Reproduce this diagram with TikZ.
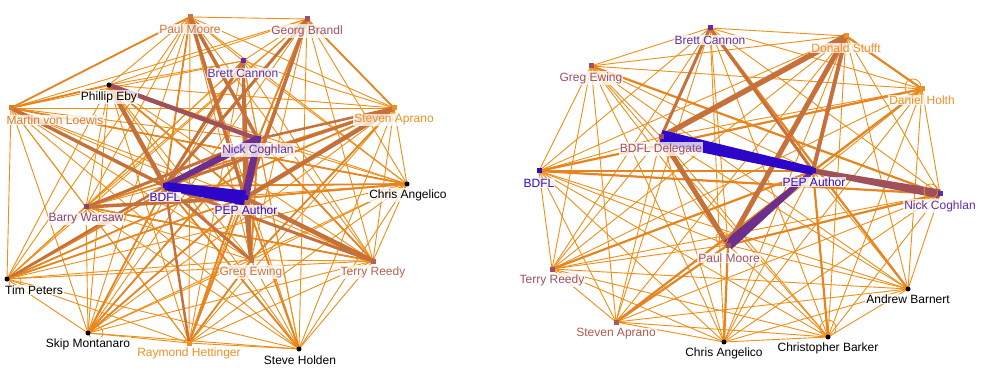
\documentclass[tikz,border=0pt]{standalone}
\usepackage{fontspec}
\setmainfont{Liberation Sans}
\usetikzlibrary{calc}
\definecolor{eor}{RGB}{240,142,22}
\definecolor{emed}{RGB}{230,132,32}
\definecolor{ebr}{RGB}{198,112,58}
\definecolor{emv}{RGB}{160,80,90}
\definecolor{epu}{RGB}{108,48,140}
\definecolor{ebl}{RGB}{45,5,200}
\definecolor{cbr}{RGB}{200,120,70}
\definecolor{cmv}{RGB}{160,80,100}
\definecolor{cpu}{RGB}{100,45,165}
\definecolor{cbl}{RGB}{50,10,200}
\definecolor{cor}{RGB}{238,145,35}
\definecolor{cmo}{RGB}{215,125,45}
\definecolor{ctr}{RGB}{180,100,80}
\definecolor{cbw}{RGB}{135,65,115}
\definecolor{csa}{RGB}{175,90,80}
\newcommand\taper[5]{\fill[#5] ($(#1)!#3!90:(#2)$) -- ($(#2)!#4!-90:(#1)$) -- ($(#2)!#4!90:(#1)$) -- ($(#1)!#3!-90:(#2)$) -- cycle;}
\begin{document}
\begin{tikzpicture}[x=1pt,y=-1pt,
  thinedge/.style={draw=eor,line width=0.9pt},
  mededge/.style={draw=emed,line width=#1},
  bredge/.style={draw=ebr,line width=#1},
  loopedge/.style={draw=eor,line width=0.8pt},
  lab/.style={font=\fontsize{12}{12}\selectfont,fill=white,fill opacity=0.75,text opacity=1,inner sep=1pt},
  sq/.style={fill=#1,minimum size=5pt,inner sep=0pt,outer sep=0pt,rectangle},
  dot/.style={fill=black,circle,minimum size=5pt,inner sep=0pt,outer sep=0pt}]
\useasboundingbox (0,0) rectangle (981,387);
\fill[white] (0,0) rectangle (981,387);
% ---------- left graph coordinates
\coordinate (a1) at (190,17);
\coordinate (a2) at (307,19);
\coordinate (a3) at (243,61);
\coordinate (a4) at (109,85);
\coordinate (a5) at (11,108);
\coordinate (a6) at (394,108);
\coordinate (a7) at (258,139);
\coordinate (a8) at (407,184);
\coordinate (a9) at (165,186);
\coordinate (a10) at (245,198);
\coordinate (a11) at (86,207);
\coordinate (a12) at (251,260);
\coordinate (a13) at (373,261);
\coordinate (a14) at (7,279);
\coordinate (a15) at (88,333);
\coordinate (a16) at (189,343);
\coordinate (a17) at (299,349);
% ---------- right graph coordinates
\coordinate (b1) at (710,28);
\coordinate (b2) at (846,36);
\coordinate (b3) at (591,66);
\coordinate (b4) at (922,89);
\coordinate (b5) at (661,137);
\coordinate (b6) at (813,171);
\coordinate (b7) at (539,171);
\coordinate (b8) at (940,194);
\coordinate (b9) at (728,245);
\coordinate (b10) at (552,269);
\coordinate (b11) at (908,289);
\coordinate (b12) at (616,322);
\coordinate (b13) at (828,337);
\coordinate (b14) at (724,342);
% ---------- thin edges (all pairs)
\foreach \i in {1,...,16}{
  \pgfmathtruncatemacro\ii{\i+1}
  \foreach \j in {\ii,...,17}{ \draw[thinedge] (a\i) -- (a\j); } }
\foreach \i in {1,...,13}{
  \pgfmathtruncatemacro\ii{\i+1}
  \foreach \j in {\ii,...,14}{ \draw[thinedge] (b\i) -- (b\j); } }
% ---------- medium edges left
\foreach \p/\q in {a5/a8,a5/a4,a5/a1,a14/a6,a14/a7,a14/a10,a15/a10,a15/a7,a15/a9,a16/a10,a16/a7,a17/a9,a17/a10,a11/a6,a11/a13,a8/a10,a8/a9,a2/a7,a2/a6,a1/a9,a6/a12,a4/a10,a13/a7,a16/a12,a12/a7}
  \draw[mededge=1.8pt] (\p) -- (\q);
% ---------- medium edges right
\foreach \p/\q in {b7/b6,b4/b6,b4/b7,b8/b9,b12/b6,b3/b8,b7/b8,b13/b6,b11/b1,b12/b9,b10/b6,b14/b9,b2/b4}
  \draw[mededge=2.2pt] (\p) -- (\q);
% ---------- brown edges left
\foreach \p/\q/\w in {a4/a9/4.5pt,a5/a9/3.5pt,a1/a10/3.5pt,a1/a7/3.5pt,a2/a10/3.5pt,a2/a9/3pt,a3/a12/3pt,a6/a10/4.5pt,a6/a9/3pt,a13/a10/4.5pt,a13/a9/3pt,a12/a10/4pt,a12/a9/3pt,a11/a10/3.5pt,a11/a7/3pt,a14/a9/2.5pt,a16/a9/2.5pt,a3/a10/3pt,a3/a9/3pt,a6/a7/2.5pt}
  \draw[bredge=\w] (\p) -- (\q);
\draw[draw=emv,line width=4.5pt] (a4) -- (a7);
% ---------- brown edges right
\foreach \p/\q/\w in {b5/b2/5.5pt,b5/b9/5pt,b2/b9/5pt,b2/b6/4pt,b1/b6/3pt,b1/b5/3pt}
  \draw[bredge=\w] (\p) -- (\q);
% ---------- tapered heavy edges
\taper{a9}{a7}{2.5pt}{4pt}{epu}
\taper{a10}{a7}{4pt}{3pt}{epu}
\taper{a9}{a10}{4pt}{7.5pt}{ebl}
\taper{b6}{b8}{2.5pt}{4.5pt}{emv}
\taper{b9}{b6}{5.5pt}{2pt}{epu}
\taper{b5}{b6}{7pt}{4pt}{ebl}
% ---------- self loops
\draw[loopedge] ($(a14)+(8,3)$) circle (6);
\draw[loopedge] ($(a15)+(8,0)$) circle (7);
\draw[loopedge] ($(b4)+(-9,-2)$) circle (8);
\draw[loopedge] ($(b8)+(-9,-3)$) circle (7);
\draw[loopedge] ($(b13)+(0,-9)$) circle (8);
\draw[loopedge] ($(b9)+(-6,-7)$) circle (6);
% ---------- markers left
\node[sq=cbr] (ma1) at (a1) {};
\node[sq=cmv] (ma2) at (a2) {};
\node[sq=cpu] (ma3) at (a3) {};
\node[dot] (ma4) at (a4) {};
\node[sq=cmo] (ma5) at (a5) {};
\node[sq=cor] (ma6) at (a6) {};
\node[sq=cpu] (ma7) at (a7) {};
\node[dot] (ma8) at (a8) {};
\node[sq=cbl] (ma9) at (a9) {};
\node[sq=cbl] (ma10) at (a10) {};
\node[sq=cbw] (ma11) at (a11) {};
\node[sq=cbr] (ma12) at (a12) {};
\node[sq=ctr] (ma13) at (a13) {};
\node[dot] (ma14) at (a14) {};
\node[dot] (ma15) at (a15) {};
\node[sq=cor] (ma16) at (a16) {};
\node[dot] (ma17) at (a17) {};
% ---------- markers right
\node[sq=cpu] (mb1) at (b1) {};
\node[sq=cor] (mb2) at (b2) {};
\node[sq=cmv] (mb3) at (b3) {};
\node[sq=cor] (mb4) at (b4) {};
\node[sq=cmv] (mb5) at (b5) {};
\node[sq=cbl] (mb6) at (b6) {};
\node[sq=cbl] (mb7) at (b7) {};
\node[sq=cpu] (mb8) at (b8) {};
\node[sq=cmv] (mb9) at (b9) {};
\node[sq=cmv] (mb10) at (b10) {};
\node[dot] (mb11) at (b11) {};
\node[sq=csa] (mb12) at (b12) {};
\node[dot] (mb13) at (b13) {};
\node[dot] (mb14) at (b14) {};
% ---------- labels left
\node[lab,text=cbr] (la1) at (190,29) {Paul Moore};
\node[lab,text=cmv] (la2) at (307,31) {Georg Brandl};
\node[lab,text=cpu] (la3) at (243,73) {Brett Cannon};
\node[lab,text=black] (la4) at (109,97) {Phillip Eby};
\node[lab,text=cmo] (la5) at (55,120) {Martin von Loewis};
\node[lab,text=cor] (la6) at (394,120) {Steven Aprano};
\node[lab,text=cpu] (la7) at (258,150) {Nick Coghlan};
\node[lab,text=black] (la8) at (408,195) {Chris Angelico};
\node[lab,text=cbl] (la9) at (165,197) {BDFL};
\node[lab,text=cbl] (la10) at (246,210) {PEP Author};
\node[lab,text=cbw] (la11) at (86,219) {Barry Warsaw};
\node[lab,text=cbr] (la12) at (251,272) {Greg Ewing};
\node[lab,text=ctr] (la13) at (373,272) {Terry Reedy};
\node[lab,text=black] (la14) at (34,290) {Tim Peters};
\node[lab,text=black] (la15) at (88,344) {Skip Montanaro};
\node[lab,text=cor] (la16) at (189,353) {Raymond Hettinger};
\node[lab,text=black] (la17) at (300,360) {Steve Holden};
% ---------- labels right
\node[lab,text=cpu] (lb1) at (710,40) {Brett Cannon};
\node[lab,text=cor] (lb2) at (846,48) {Donald Stufft};
\node[lab,text=cmv] (lb3) at (591,78) {Greg Ewing};
\node[lab,text=cor] (lb4) at (922,100) {Daniel Holth};
\node[lab,text=cmv] (lb5) at (661,149) {BDFL Delegate};
\node[lab,text=cbl] (lb6) at (814,182) {PEP Author};
\node[lab,text=cbl] (lb7) at (539,183) {BDFL};
\node[lab,text=cpu] (lb8) at (940,206) {Nick Coghlan};
\node[lab,text=cmv] (lb9) at (729,258) {Paul Moore};
\node[lab,text=cmv] (lb10) at (552,280) {Terry Reedy};
\node[lab,text=black] (lb11) at (908,299) {Andrew Barnert};
\node[lab,text=csa] (lb12) at (616,334) {Steven Aprano};
\node[lab,text=black] (lb13) at (828,348) {Christopher Barker};
\node[lab,text=black] (lb14) at (724,353) {Chris Angelico};
\end{tikzpicture}
\end{document}
